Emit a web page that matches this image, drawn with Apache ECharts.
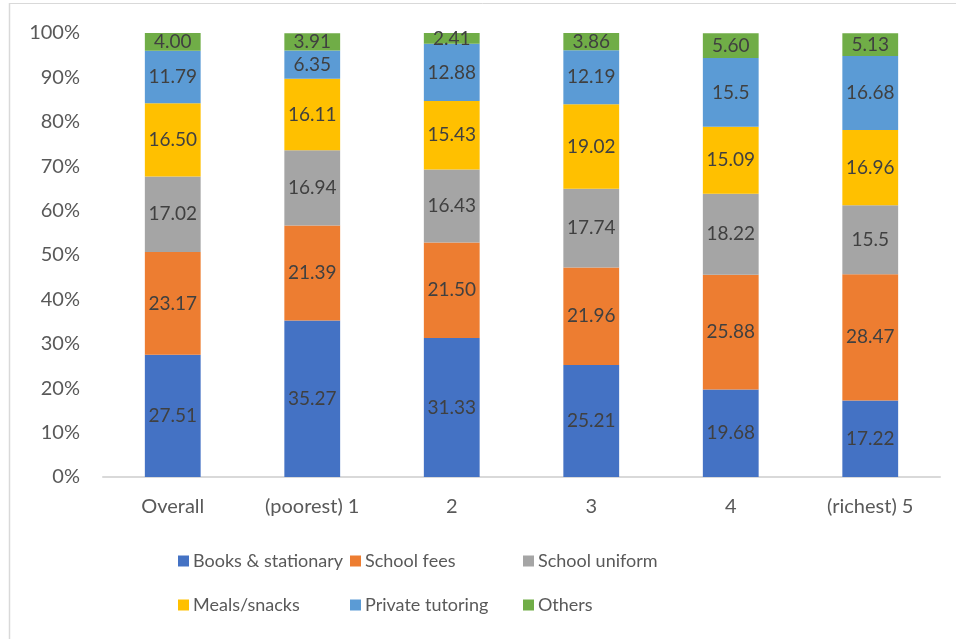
<!DOCTYPE html>
<html>
<head>
<meta charset="utf-8">
<script src="https://cdn.jsdelivr.net/npm/echarts@6/dist/echarts.min.js"></script>
<style>
html,body{margin:0;padding:0;background:#fff;}
#chart{width:956px;height:639px;}
</style>
</head>
<body>
<div id="chart"></div>
<script>
var categories = ["Overall", "(poorest) 1", "2", "3", "4", "(richest) 5"];
var seriesNames = ["Books & stationary", "School fees", "School uniform", "Meals/snacks", "Private tutoring", "Others"];
var books = ["27.51", "35.27", "31.33", "25.21", "19.68", "17.22"];
var fees = ["23.17", "21.39", "21.50", "21.96", "25.88", "28.47"];
var uniform = ["17.02", "16.94", "16.43", "17.74", "18.22", "15.5"];
var meals = ["16.50", "16.11", "15.43", "19.02", "15.09", "16.96"];
var tutoring = ["11.79", "6.35", "12.88", "12.19", "15.5", "16.68"];
var others = ["4.00", "3.91", "2.41", "3.86", "5.60", "5.13"];
var yTicks = ["0%", "10%", "20%", "30%", "40%", "50%", "60%", "70%", "80%", "90%", "100%"];

var colors = ["#4472C4", "#ED7D31", "#A5A5A5", "#FFC000", "#5B9BD5", "#70AD47"];
var allData = [books, fees, uniform, meals, tutoring, others];
var FONT = "Lato";

var series = allData.map(function (arr, i) {
  return {
    name: seriesNames[i],
    type: "bar",
    stack: "total",
    barWidth: "40%",
    itemStyle: { color: colors[i] },
    label: {
      show: true,
      position: "inside",
      color: "#404040",
      fontFamily: FONT,
      fontSize: 19,
      formatter: function (p) { return arr[p.dataIndex]; }
    },
    data: arr.map(function (s) { return parseFloat(s); })
  };
});

var legendPos = [
  { left: 178, top: 552 }, { left: 350, top: 552 }, { left: 523, top: 552 },
  { left: 178, top: 596 }, { left: 350, top: 596 }, { left: 523, top: 596 }
];
var legends = seriesNames.map(function (n, i) {
  return {
    data: [n],
    left: legendPos[i].left,
    top: legendPos[i].top,
    icon: "rect",
    itemWidth: 11,
    itemHeight: 11,
    itemGap: 6,
    padding: 0,
    textStyle: { color: "#595959", fontFamily: FONT, fontSize: 18, padding: [0, 0, 0, -1] },
    selectedMode: false
  };
});

var chart = echarts.init(document.getElementById("chart"), null, { renderer: "canvas" });
chart.setOption({
  animation: false,
  backgroundColor: "#ffffff",
  color: colors,
  grid: { left: 103, right: 16, top: 33, bottom: 162, containLabel: false },
  legend: legends,
  xAxis: {
    type: "category",
    data: categories,
    axisLine: { show: true, lineStyle: { color: "#D9D9D9", width: 2 } },
    axisTick: { show: false },
    axisLabel: { color: "#595959", fontFamily: FONT, fontSize: 20, margin: 20 }
  },
  yAxis: {
    type: "value",
    min: 0,
    max: 100,
    interval: 10,
    axisLine: { show: false },
    axisTick: { show: false },
    splitLine: { show: false },
    axisLabel: {
      color: "#595959", fontFamily: FONT, fontSize: 20, margin: 23,
      formatter: function (v) { return yTicks[Math.round(v / 10)]; }
    }
  },
  graphic: [
    { type: "line", shape: { x1: 9.5, y1: 3, x2: 9.5, y2: 639 }, style: { stroke: "#D9D9D9", lineWidth: 1.5 }, silent: true },
    { type: "line", shape: { x1: 9, y1: 3.5, x2: 956, y2: 3.5 }, style: { stroke: "#D9D9D9", lineWidth: 1 }, silent: true }
  ],
  series: series
});
</script>
</body>
</html>
